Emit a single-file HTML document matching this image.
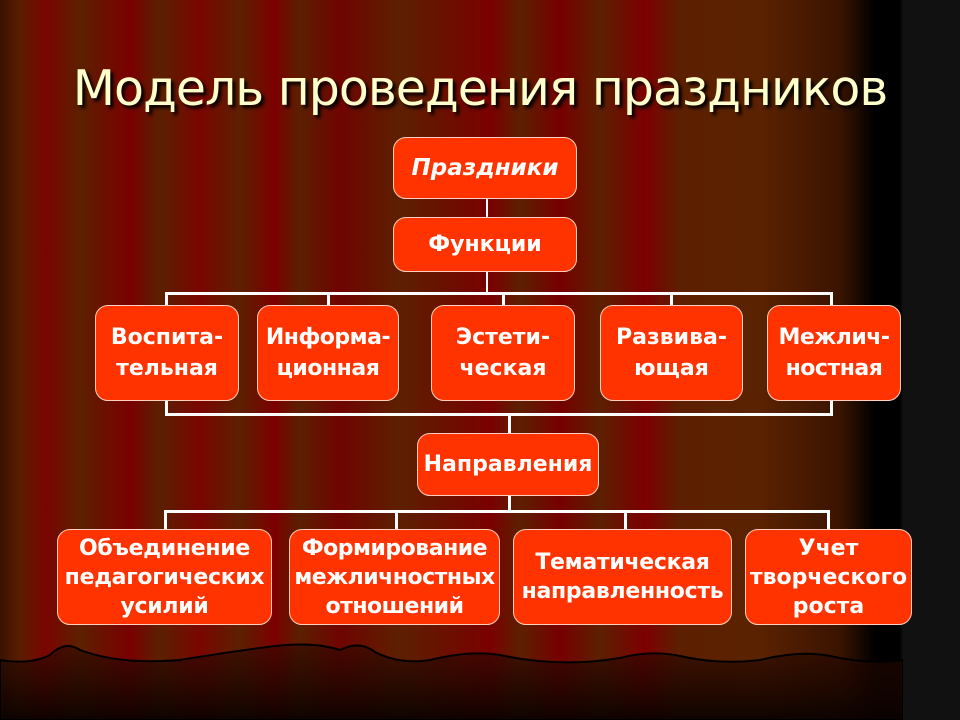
<!DOCTYPE html>
<html><head><meta charset="utf-8"><style>
body{margin:0;width:960px;height:720px;overflow:hidden;position:relative;
background:linear-gradient(90deg,#3a1200 0px,#5a1e00 20px,#7a0400 45px,#5c2000 80px,#7a0000 130px,#5a2000 160px,#7a0600 200px,#5c2000 240px,#7c0000 275px,#5a2000 300px,#700400 340px,#5c2000 400px,#7a0000 490px,#5c2000 520px,#760000 560px,#5c2000 600px,#7c0000 645px,#5c2000 680px,#5a2200 760px,#3a1400 840px,#000 875px,#000 900px,#111 903px,#111 960px);}
.t{position:absolute;left:0;width:960px;top:60px;text-align:center;font:49px "DejaVu Sans","Liberation Sans",sans-serif;color:#ffffcc;text-shadow:3px 3px 3px #000;letter-spacing:-1px}
.b{position:absolute;background:#ff3300;border:1.5px solid #ffd0c0;border-radius:13px;box-sizing:border-box;display:flex;align-items:center;justify-content:center;text-align:center;color:#fff;font-family:"DejaVu Sans","Liberation Sans",sans-serif;font-weight:bold;font-size:22px;line-height:31px;letter-spacing:0}
.l{position:absolute;background:#fff}
</style></head><body>
<svg style="position:absolute;left:0;top:0" width="960" height="720">
<defs><linearGradient id="g" x1="0" y1="0" x2="0" y2="1"><stop offset="0" stop-color="#2a0800" stop-opacity="0.55"/><stop offset="1" stop-color="#0a0200" stop-opacity="0.95"/></linearGradient></defs>
<path d="M0 660 Q30 665 50 655 Q65 640 80 650 Q120 665 180 660 Q230 652 260 648 Q310 640 340 650 Q360 640 375 652 Q400 665 430 660 Q470 650 500 655 Q560 668 620 658 Q650 650 680 656 Q720 665 760 660 Q800 650 830 656 Q870 665 903 660 L903 720 L0 720Z" fill="url(#g)" stroke="#000" stroke-width="2"/>
<rect x="903" y="640" width="57" height="80" fill="#111"/>
</svg>
<div class="t">Модель проведения праздников</div>
<div class="l" style="left:486px;top:199px;width:2px;height:18px"></div>
<div class="l" style="left:486px;top:271px;width:2px;height:22px"></div>
<div class="l" style="left:165px;top:292px;width:668px;height:3px"></div>
<div class="l" style="left:165px;top:292px;width:3px;height:14px"></div>
<div class="l" style="left:327px;top:292px;width:3px;height:14px"></div>
<div class="l" style="left:502px;top:292px;width:3px;height:14px"></div>
<div class="l" style="left:670px;top:292px;width:3px;height:14px"></div>
<div class="l" style="left:830px;top:292px;width:3px;height:14px"></div>
<div class="l" style="left:165px;top:400px;width:3px;height:16px"></div>
<div class="l" style="left:830px;top:400px;width:3px;height:16px"></div>
<div class="l" style="left:165px;top:413px;width:668px;height:3px"></div>
<div class="l" style="left:508px;top:413px;width:3px;height:20px"></div>
<div class="l" style="left:508px;top:496px;width:3px;height:16px"></div>
<div class="l" style="left:164px;top:510px;width:666px;height:3px"></div>
<div class="l" style="left:164px;top:510px;width:3px;height:20px"></div>
<div class="l" style="left:395px;top:510px;width:3px;height:20px"></div>
<div class="l" style="left:624px;top:510px;width:3px;height:20px"></div>
<div class="l" style="left:827px;top:510px;width:3px;height:20px"></div>
<div class="b" style="left:393px;top:137px;width:184px;height:62px;font-style:italic;font-size:23px">Праздники</div>
<div class="b" style="left:393px;top:217px;width:184px;height:55px">Функции</div>
<div class="b" style="left:95px;top:305px;width:144px;height:96px">Воспита-<br>тельная</div>
<div class="b" style="left:257px;top:305px;width:142px;height:96px;letter-spacing:-0.5px">Информа-<br>ционная</div>
<div class="b" style="left:431px;top:305px;width:144px;height:96px">Эстети-<br>ческая</div>
<div class="b" style="left:600px;top:305px;width:143px;height:96px">Развива-<br>ющая</div>
<div class="b" style="left:767px;top:305px;width:134px;height:96px;letter-spacing:-0.5px">Межлич-<br>ностная</div>
<div class="b" style="left:417px;top:433px;width:182px;height:63px">Направления</div>
<div class="b" style="left:57px;top:529px;width:215px;height:96px;line-height:29px;letter-spacing:-0.3px">Объединение<br>педагогических<br>усилий</div>
<div class="b" style="left:289px;top:529px;width:211px;height:96px;line-height:29px;letter-spacing:-0.5px">Формирование<br>межличностных<br>отношений</div>
<div class="b" style="left:513px;top:529px;width:219px;height:96px;line-height:29px;letter-spacing:-0.3px">Тематическая<br>направленность</div>
<div class="b" style="left:745px;top:529px;width:167px;height:96px;line-height:29px">Учет<br>творческого<br>роста</div>
</body></html>
